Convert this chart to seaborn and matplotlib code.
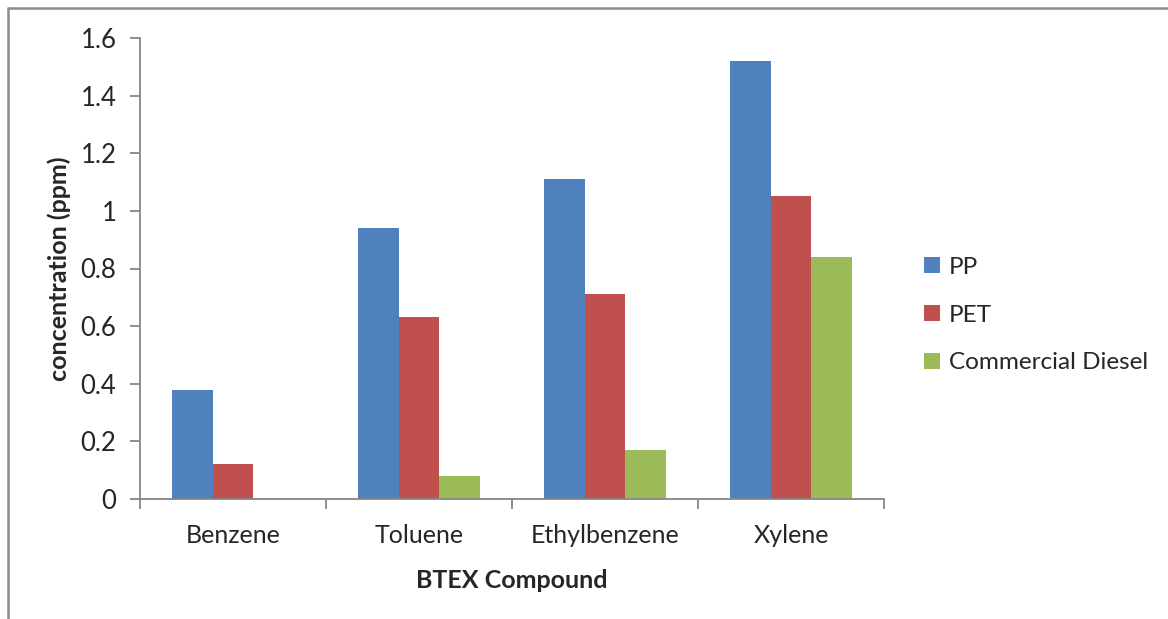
import matplotlib
matplotlib.use("Agg")
import matplotlib.pyplot as plt
from matplotlib.lines import Line2D
from matplotlib.ticker import FixedLocator
import seaborn as sns
import pandas as pd

compounds = ["Benzene", "Toluene", "Ethylbenzene", "Xylene"]
fuels = ["PP", "PET", "Commercial Diesel"]
pp_values = [0.38, 0.94, 1.11, 1.52]
pet_values = [0.12, 0.63, 0.71, 1.05]
diesel_values = [0.0, 0.08, 0.17, 0.84]
yticks = [0, 0.2, 0.4, 0.6, 0.8, 1, 1.2, 1.4, 1.6]
ytick_labels = ["0", "0.2", "0.4", "0.6", "0.8", "1", "1.2", "1.4", "1.6"]
colors = ["#4F81BD", "#C0504D", "#9BBB59"]

df = pd.DataFrame({
    "compound": compounds * 3,
    "fuel": [fuels[0]] * 4 + [fuels[1]] * 4 + [fuels[2]] * 4,
    "value": pp_values + pet_values + diesel_values,
})

sns.set_style("white")
plt.rcParams["font.family"] = ["Lato", "DejaVu Sans"]

W, H = 1168, 619
fig = plt.figure(figsize=(W / 100, H / 100), dpi=100)
ax = fig.add_axes([140 / W, 1 - 499 / H, (884 - 140) / W, (499 - 38) / H])

sns.barplot(data=df, x="compound", y="value", hue="fuel", order=compounds,
            hue_order=fuels, palette=colors, width=0.66, saturation=1,
            edgecolor="none", linewidth=0, ax=ax, legend=True)

ax.set_xlim(-0.5, 3.5)
ax.set_ylim(0, 1.6)
ax.set_yticks(yticks)
ax.set_yticklabels(ytick_labels)

grey = "#868686"
for side in ("top", "right"):
    ax.spines[side].set_visible(False)
for side in ("left", "bottom"):
    ax.spines[side].set_color(grey)
    ax.spines[side].set_linewidth(1.3)

ax.tick_params(axis="y", which="major", direction="out", length=7, width=1.3,
               color=grey, labelsize=18.5, pad=10, left=True)
ax.tick_params(axis="x", which="major", length=0, labelsize=18, pad=18)
ax.xaxis.set_minor_locator(FixedLocator([-0.5, 0.5, 1.5, 2.5, 3.5]))
ax.tick_params(axis="x", which="minor", direction="out", length=7, width=1.3,
               color=grey, bottom=True)

ax.set_xlabel("BTEX Compound", fontsize=18, fontweight="bold", labelpad=16)
ax.set_ylabel("concentration (ppm)", fontsize=18, fontweight="bold", labelpad=7)

leg = ax.legend(loc="center left", bbox_to_anchor=(1.025, 0.399), frameon=False,
                fontsize=17.5, handlelength=0.65, handleheight=0.65,
                handletextpad=0.35, labelspacing=1.1)

# outer chart border (top and left edges)
fig.add_artist(Line2D([8 / W, 1.0], [1 - 8 / H, 1 - 8 / H], color="#8C8C8C",
                      linewidth=1.8, transform=fig.transFigure))
fig.add_artist(Line2D([8 / W, 8 / W], [1 - 8 / H, 0.0], color="#8C8C8C",
                      linewidth=1.8, transform=fig.transFigure))

fig.savefig("out.png", dpi=100)
